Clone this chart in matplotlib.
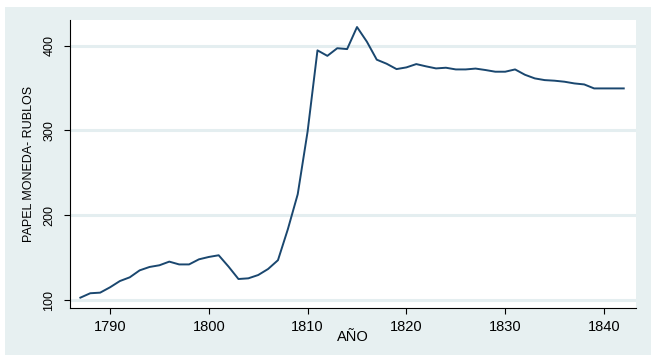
import matplotlib
matplotlib.use("Agg")
import matplotlib.pyplot as plt
from matplotlib.patches import Rectangle

plt.rcParams['font.family'] = ['Liberation Sans', 'DejaVu Sans']

years = list(range(1787, 1843))
values = [102.8, 108, 108.7, 115, 122.4, 126.8, 135, 139, 141, 145.3,
          142, 142, 148, 150.8, 152.8, 139.4, 124.8, 125.6, 129.5, 136.6,
          147, 183.5, 224.8, 298.8, 394.5, 388, 397, 396, 422, 404.7,
          383.5, 378.7, 372.4, 374.4, 378.3, 375.6, 373.2, 374, 372, 372,
          373, 371.3, 369.3, 369.3, 372, 365.7, 361.4, 359.4, 358.7, 357.5,
          355.5, 354.3, 349.6, 349.6, 349.6, 349.6]
xticks = [1790, 1800, 1810, 1820, 1830, 1840]
yticks = [100, 200, 300, 400]

fig = plt.figure(figsize=(6.55, 3.64), dpi=100, facecolor='white')
bg = Rectangle((5/655, 9/364), 646/655, 348/364, transform=fig.transFigure,
               facecolor='#E7F0F1', edgecolor='none', zorder=-10)
fig.add_artist(bg)
ax = fig.add_axes([70/655, 1 - 308/364, 566/655, 288/364])
ax.set_zorder(5)
ax.set_facecolor('white')
for y in yticks:
    ax.axhline(y, color='#E4EEF0', lw=2.2, zorder=1)
ax.plot(years, values, color='#1A476F', lw=1.4, zorder=3)
ax.set_xlim(1785.95, 1843.24)
ax.set_ylim(90.6, 430.3)
ax.set_xticks(xticks)
ax.set_yticks(yticks)
ax.spines['top'].set_visible(False)
ax.spines['right'].set_visible(False)
ax.tick_params(axis='both', direction='out', length=4.5, width=0.8, colors='black')
ax.tick_params(axis='x', labelsize=10.5, pad=4)
ax.tick_params(axis='y', labelsize=9, pad=6)
for lab in ax.get_yticklabels():
    lab.set_rotation(90)
    lab.set_va('center')
ax.set_xlabel('AÑO', fontsize=10.5, labelpad=-3)
ax.set_ylabel('PAPEL MONEDA- RUBLOS', fontsize=9, labelpad=6)
fig.savefig('out.png', dpi=100, facecolor='white')
